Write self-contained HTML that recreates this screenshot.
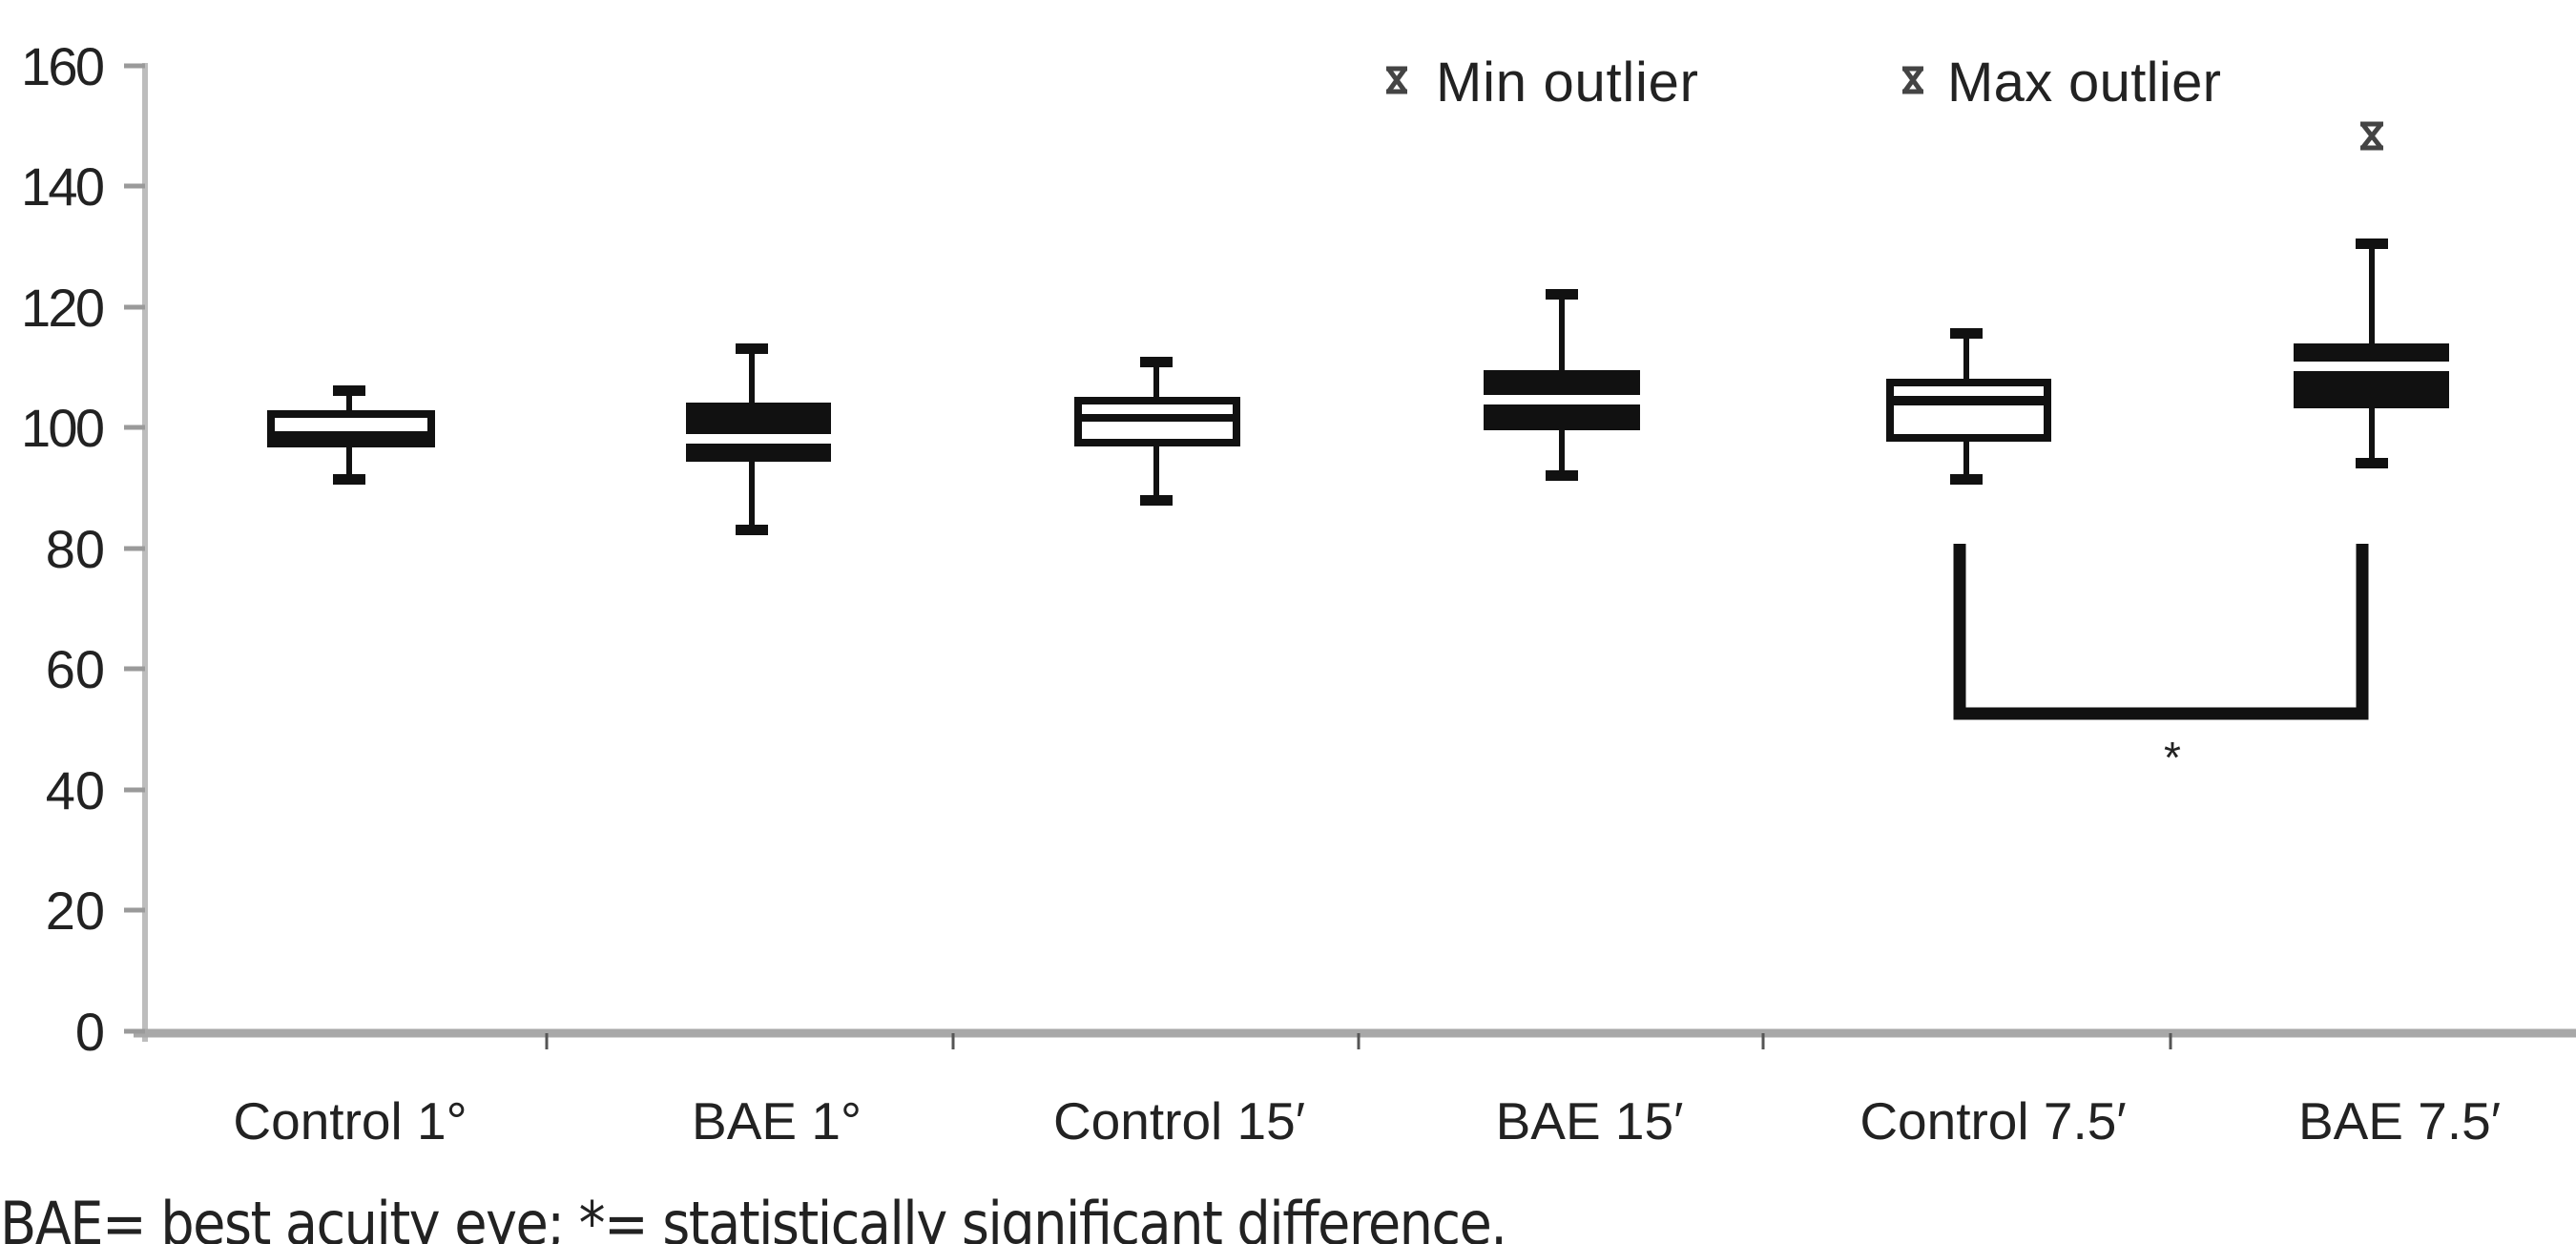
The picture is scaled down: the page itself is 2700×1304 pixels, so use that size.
<!DOCTYPE html>
<html><head><meta charset="utf-8"><style>
html,body{margin:0;padding:0;background:#fff;}
svg{display:block;}
text{font-family:"Liberation Sans",sans-serif;fill:#222;}
</style></head><body>
<svg width="2700" height="1304" viewBox="0 0 2700 1304" xmlns="http://www.w3.org/2000/svg">
<line x1="152" y1="66" x2="152" y2="1092" stroke="#bdbdbd" stroke-width="6"/>
<line x1="140" y1="1083" x2="2700" y2="1083" stroke="#a8a8a8" stroke-width="9"/>
<g stroke="#9a9a9a" stroke-width="5">
<line x1="130" y1="69" x2="152" y2="69"/>
<line x1="130" y1="195" x2="152" y2="195"/>
<line x1="130" y1="322" x2="152" y2="322"/>
<line x1="130" y1="448" x2="152" y2="448"/>
<line x1="130" y1="575" x2="152" y2="575"/>
<line x1="130" y1="701" x2="152" y2="701"/>
<line x1="130" y1="828" x2="152" y2="828"/>
<line x1="130" y1="954" x2="152" y2="954"/>
<line x1="130" y1="1081" x2="152" y2="1081"/>
</g>
<g stroke="#555" stroke-width="3">
<line x1="573" y1="1083" x2="573" y2="1100"/>
<line x1="999" y1="1083" x2="999" y2="1100"/>
<line x1="1424" y1="1083" x2="1424" y2="1100"/>
<line x1="1848" y1="1083" x2="1848" y2="1100"/>
<line x1="2275" y1="1083" x2="2275" y2="1100"/>
</g>
<g font-size="56" text-anchor="end">
<text x="110" y="89" textLength="88">160</text>
<text x="110" y="215" textLength="88">140</text>
<text x="110" y="342" textLength="88">120</text>
<text x="110" y="468" textLength="88">100</text>
<text x="110" y="595">80</text>
<text x="110" y="721">60</text>
<text x="110" y="848">40</text>
<text x="110" y="974">20</text>
<text x="110" y="1101">0</text>
</g>
<g font-size="55" text-anchor="middle">
<text x="367" y="1194">Control 1°</text>
<text x="814" y="1194">BAE 1°</text>
<text x="1236" y="1194">Control 15′</text>
<text x="1666" y="1194">BAE 15′</text>
<text x="2089" y="1194">Control 7.5′</text>
<text x="2515" y="1194">BAE 7.5′</text>
</g>
<g stroke="#111" stroke-width="8" fill="none">
<line x1="366" y1="410" x2="366" y2="504" stroke-width="6"/>
<rect x="349" y="404" width="34" height="11" fill="#111" stroke="none"/>
<rect x="349" y="497" width="34" height="11" fill="#111" stroke="none"/>
<rect x="284" y="434" width="168" height="31" fill="#fff"/>
<rect x="284" y="452" width="168" height="15" fill="#111" stroke="none"/>

<line x1="788" y1="366" x2="788" y2="556" stroke-width="6"/>
<rect x="771" y="360" width="34" height="11" fill="#111" stroke="none"/>
<rect x="771" y="550" width="34" height="11" fill="#111" stroke="none"/>
<rect x="719" y="422" width="152" height="62" fill="#111" stroke="none"/>
<rect x="719" y="455" width="152" height="10" fill="#fff" stroke="none"/>

<line x1="1212" y1="379" x2="1212" y2="525" stroke-width="6"/>
<rect x="1195" y="374" width="34" height="11" fill="#111" stroke="none"/>
<rect x="1195" y="519" width="34" height="11" fill="#111" stroke="none"/>
<rect x="1130" y="420" width="166" height="44" fill="#fff"/>
<rect x="1130" y="434" width="166" height="8" fill="#111" stroke="none"/>

<line x1="1637" y1="309" x2="1637" y2="499" stroke-width="6"/>
<rect x="1620" y="303" width="34" height="11" fill="#111" stroke="none"/>
<rect x="1620" y="493" width="34" height="11" fill="#111" stroke="none"/>
<rect x="1555" y="388" width="164" height="63" fill="#111" stroke="none"/>
<rect x="1555" y="414" width="164" height="10" fill="#fff" stroke="none"/>

<line x1="2061" y1="350" x2="2061" y2="504" stroke-width="6"/>
<rect x="2044" y="344" width="34" height="11" fill="#111" stroke="none"/>
<rect x="2044" y="497" width="34" height="11" fill="#111" stroke="none"/>
<rect x="1981" y="401" width="165" height="58" fill="#fff"/>
<rect x="1981" y="415" width="165" height="10" fill="#111" stroke="none"/>

<line x1="2486" y1="256" x2="2486" y2="486" stroke-width="6"/>
<rect x="2469" y="250" width="34" height="11" fill="#111" stroke="none"/>
<rect x="2469" y="480" width="34" height="11" fill="#111" stroke="none"/>
<rect x="2404" y="360" width="163" height="68" fill="#111" stroke="none"/>
<rect x="2404" y="379" width="163" height="10" fill="#fff" stroke="none"/>
</g>
<path d="M2054 570 V748 H2476 V570" stroke="#111" stroke-width="13" fill="none"/>
<text x="2277" y="810" font-size="46" text-anchor="middle">*</text>
<g stroke="#444" stroke-width="5" fill="none">
<path d="M2474 130 h24 M2474 155 h24 M2477 131 L2495 154 M2495 131 L2477 154"/>
<path d="M1453 72 h22 M1453 96 h22 M1456 73 L1472 95 M1472 73 L1456 95"/>
<path d="M1994 72 h22 M1994 96 h22 M1997 73 L2013 95 M2013 73 L1997 95"/>
</g>
<g font-size="58" fill="#333">
<text x="1505" y="106" textLength="275">Min outlier</text>
<text x="2041" y="106" textLength="287">Max outlier</text>
</g>
<text x="0" y="1304" font-size="62" style="font-family:'DejaVu Sans Condensed','Liberation Sans',sans-serif" textLength="1580">BAE= best acuity eye; *= statistically significant difference.</text>
</svg>
</body></html>
